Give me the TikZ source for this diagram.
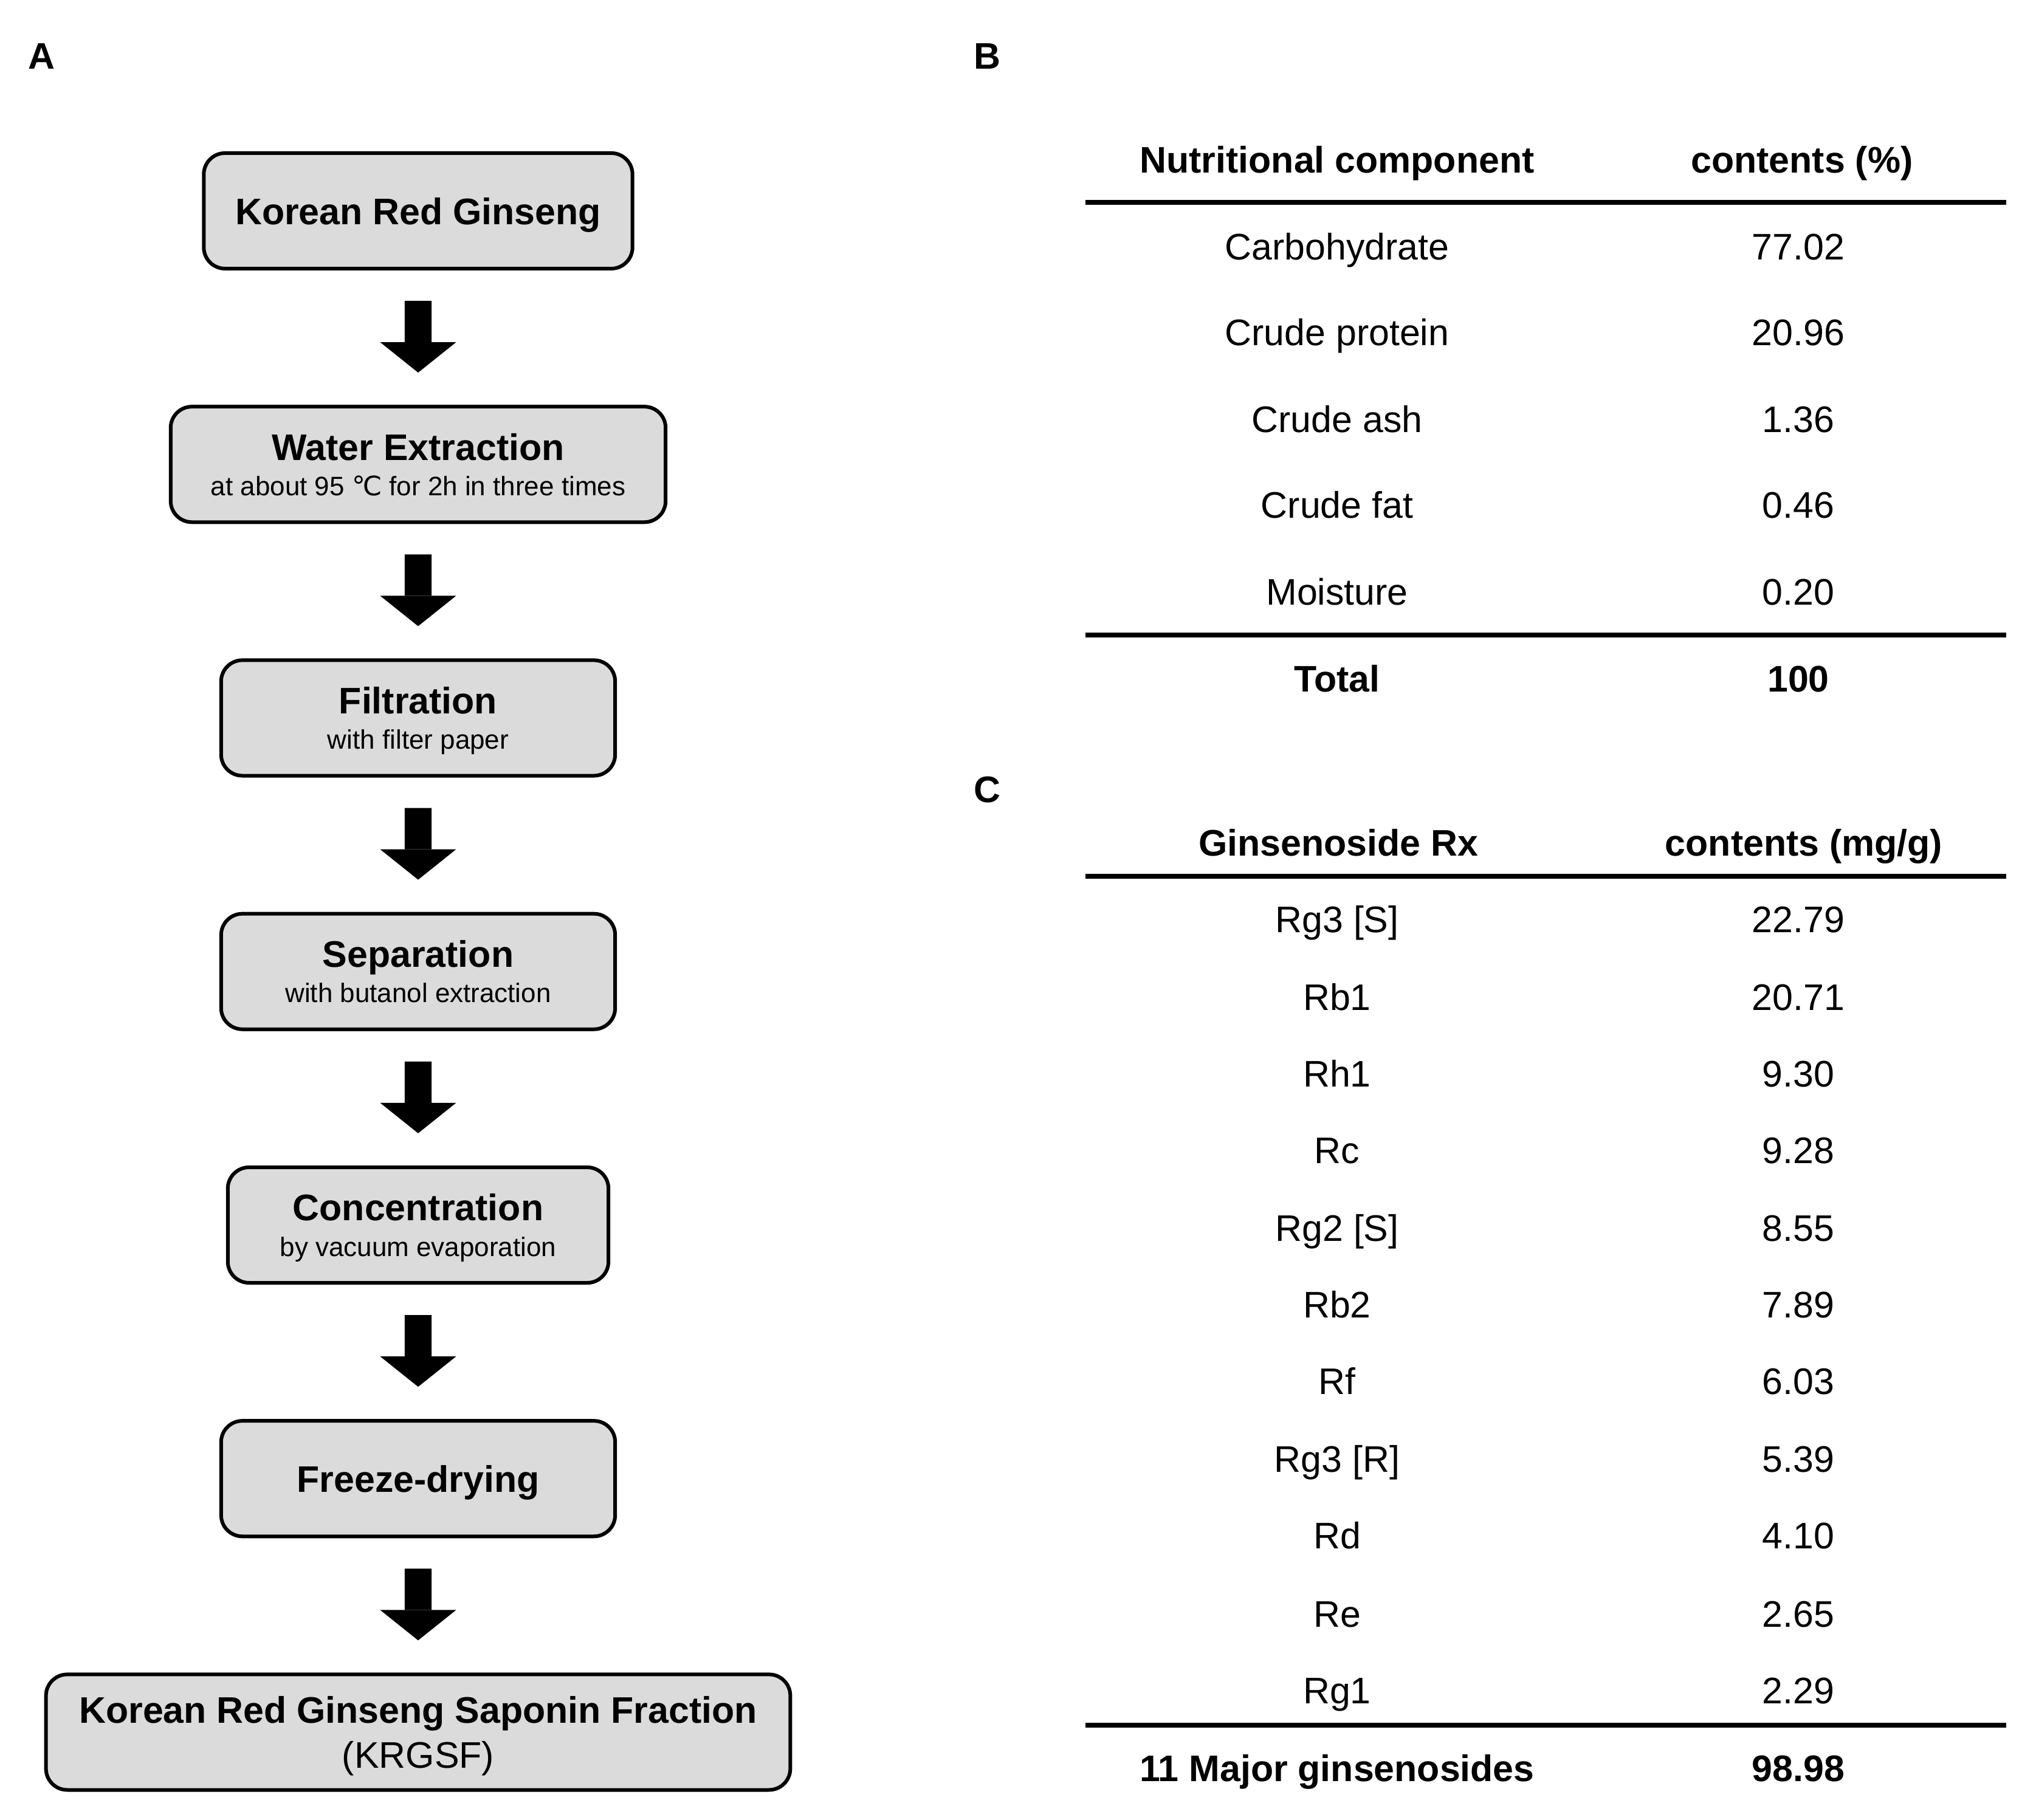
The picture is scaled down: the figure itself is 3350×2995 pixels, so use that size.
\documentclass[tikz,border=0pt]{standalone}
\usepackage{fontspec}
\setmainfont{Liberation Sans}
\newfontfamily\degfont{DejaVu Sans}
\usepackage{xcolor}
\usepackage{tikz}
\usetikzlibrary{arrows.meta}

\definecolor{boxgray}{HTML}{DBDBDB}
\newcommand{\subtext}{\fontsize{12.5}{16.6}\selectfont}

\begin{document}
\begin{tikzpicture}[x=0.01cm,y=-0.01cm,level distance=4.17cm,
    every node/.style={align=center,font=\fontsize{17.3}{16.6}\selectfont},
    stepbox/.style={draw,line width=0.06cm,rounded corners=0.35cm,fill=boxgray,minimum height=1.9cm,inner sep=0pt,text depth=0pt},
    edge from parent/.style={draw,line width=0.44cm,-{Triangle[width=1.25cm,length=0.5cm,line width=0pt]},shorten <=0.5cm,shorten >=0.53cm},
    cell/.style={inner sep=0pt,text height=12.4pt,text depth=0pt},
    headcell/.style={cell,font=\fontsize{17.3}{19.6}\selectfont\bfseries},
    tablerule/.style={line width=0.08cm}]
    \useasboundingbox (0,0) rectangle (3350,2995);

    % flow chart
    \node[stepbox,minimum width=7.05cm] (krg) at (688,347) {\bfseries Korean Red Ginseng}
        child {node[stepbox,minimum width=8.14cm] (water) {\bfseries Water Extraction\\\subtext at about 95 {\degfont ℃} for 2h in three times}
        child {node[stepbox,minimum width=6.48cm] (filt) {\bfseries Filtration\\\subtext with filter paper}
        child {node[stepbox,minimum width=6.48cm] (sep) {\bfseries Separation\\\subtext with butanol extraction}
        child {node[stepbox,minimum width=6.26cm] (conc) {\bfseries Concentration\\\subtext by vacuum evaporation}
        child {node[stepbox,minimum width=6.48cm] (freeze) {\bfseries Freeze-drying}
        child {node[stepbox,minimum width=12.24cm,font=\fontsize{17.3}{21}\selectfont] (krgsf) {\bfseries Korean Red Ginseng Saponin Fraction\\\mdseries (KRGSF)}}}}}}};

    % panel labels
    \node[headcell] (labA) at (68,92) {A};
    \node[headcell] (labB) at (1624,92) {B};
    \node[headcell] (labC) at (1624,1299) {C};

    % table B
    \node[headcell] (nutHead) at (2200,263) {Nutritional component};
    \node[headcell] (pctHead) at (2965,263) {contents (\%)};
    \draw[tablerule] (1786,333) -- (3301,333);
    \node[cell] (carbo) at (2200,406) {Carbohydrate};
    \node[cell] (carboVal) at (2959,406) {77.02};
    \node[cell] (prot) at (2200,547) {Crude protein};
    \node[cell] (protVal) at (2959,547) {20.96};
    \node[cell] (ash) at (2200,690) {Crude ash};
    \node[cell] (ashVal) at (2959,690) {1.36};
    \node[cell] (fat) at (2200,831) {Crude fat};
    \node[cell] (fatVal) at (2959,831) {0.46};
    \node[cell] (moist) at (2200,974) {Moisture};
    \node[cell] (moistVal) at (2959,974) {0.20};
    \draw[tablerule] (1786,1045) -- (3301,1045);
    \node[headcell] (total) at (2200,1117) {Total};
    \node[headcell] (totalVal) at (2959,1117) {100};

    % table C
    \node[headcell] (ginHead) at (2202,1387) {Ginsenoside Rx};
    \node[headcell] (mgHead) at (2968,1387) {contents (mg/g)};
    \draw[tablerule] (1786,1442) -- (3301,1442);
    \node[cell] (rgS) at (2200,1513) {Rg3 [S]};
    \node[cell] (rgSVal) at (2959,1513) {22.79};
    \node[cell] (rbA) at (2200,1641) {Rb1};
    \node[cell] (rbAVal) at (2959,1641) {20.71};
    \node[cell] (rh) at (2200,1767) {Rh1};
    \node[cell] (rhVal) at (2959,1767) {9.30};
    \node[cell] (rc) at (2200,1893) {Rc};
    \node[cell] (rcVal) at (2959,1893) {9.28};
    \node[cell] (rgTwo) at (2200,2021) {Rg2 [S]};
    \node[cell] (rgTwoVal) at (2959,2021) {8.55};
    \node[cell] (rbB) at (2200,2147) {Rb2};
    \node[cell] (rbBVal) at (2959,2147) {7.89};
    \node[cell] (rf) at (2200,2273) {Rf};
    \node[cell] (rfVal) at (2959,2273) {6.03};
    \node[cell] (rgR) at (2200,2401) {Rg3 [R]};
    \node[cell] (rgRVal) at (2959,2401) {5.39};
    \node[cell] (rd) at (2200,2527) {Rd};
    \node[cell] (rdVal) at (2959,2527) {4.10};
    \node[cell] (re) at (2200,2656) {Re};
    \node[cell] (reVal) at (2959,2656) {2.65};
    \node[cell] (rgOne) at (2200,2782) {Rg1};
    \node[cell] (rgOneVal) at (2959,2782) {2.29};
    \draw[tablerule] (1786,2839) -- (3301,2839);
    \node[headcell] (major) at (2200,2910) {11 Major ginsenosides};
    \node[headcell] (majorVal) at (2959,2910) {98.98};
\end{tikzpicture}
\end{document}
